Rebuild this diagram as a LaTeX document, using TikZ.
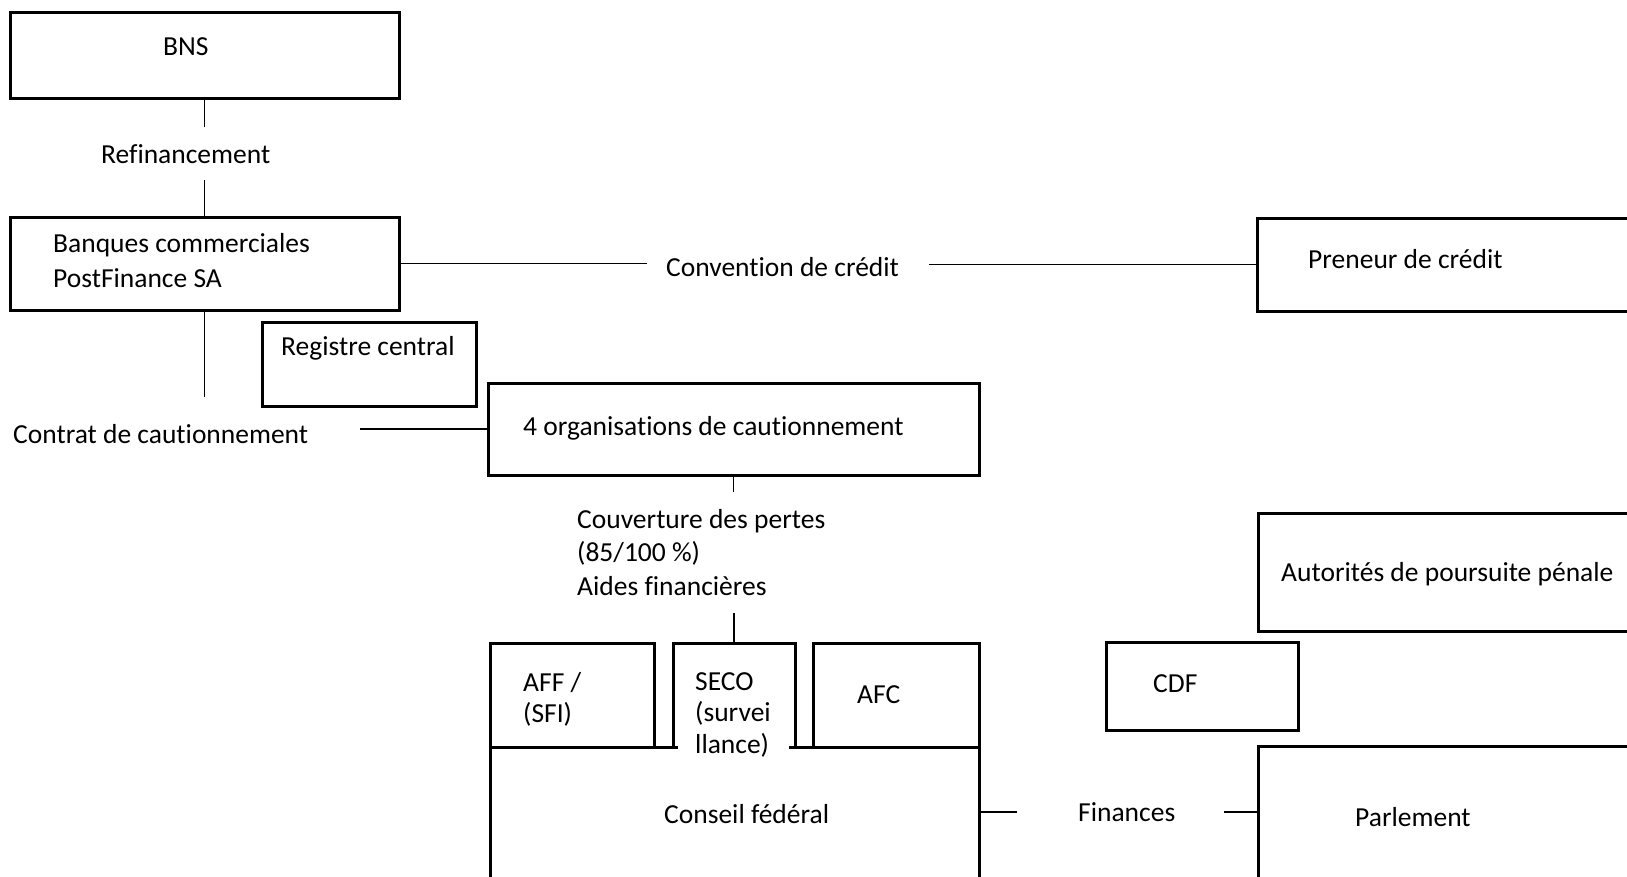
\documentclass[tikz,border=0pt]{standalone}
\usepackage{fontspec}
\setmainfont{Carlito}[Ligatures=CommonOff]
\begin{document}
\begin{tikzpicture}[x=1pt,y=-1pt,
  box/.style={draw, line width=3pt, inner sep=0pt, outer sep=0pt, anchor=north west},
  openbox/.style={draw=none, inner sep=0pt, outer sep=0pt, anchor=north west},
  border/.style={line width=3pt},
  conn/.style={line width=1.6pt},
  txt/.style={inner sep=0pt, anchor=base west, font=\fontsize{27.5}{33}\selectfont, align=left},
]
\useasboundingbox (0,0) rectangle (1627,876);
\clip (0,0) rectangle (1627,876);

% boxes
\node[box, minimum width=389pt, minimum height=86pt] (bns) at (10,12) {};
\node[box, minimum width=389pt, minimum height=93pt] (banques) at (10,217) {};
\node[box, minimum width=214pt, minimum height=84pt] (registre) at (262,322) {};
\node[box, minimum width=491pt, minimum height=92pt] (org) at (488,383) {};
\node[box, minimum width=164pt, minimum height=104pt] (aff) at (490,643) {};
\node[openbox, minimum width=122pt, minimum height=104pt] (seco) at (673,643) {};
\node[box, minimum width=166pt, minimum height=104pt] (afc) at (813,643) {};
\node[openbox, minimum width=489pt, minimum height=160pt] (conseil) at (490,747) {};
\node[box, minimum width=192pt, minimum height=88pt] (cdf) at (1106,642) {};
\node[box, minimum width=400pt, minimum height=118pt] (autorites) at (1258,513) {};
\node[box, minimum width=400pt, minimum height=93pt] (preneur) at (1257,218) {};
\node[box, minimum width=400pt, minimum height=160pt] (parlement) at (1258,746) {};

% open borders
\draw[border] (seco.south west) -- (seco.north west) -- (seco.north east) -- (seco.south east);
\draw[border] (conseil.south west) -- (conseil.north west) -- ([xshift=188pt]conseil.north west);
\draw[border] ([xshift=299pt]conseil.north west) -- (conseil.north east) -- (conseil.south east);

% connectors
\coordinate (c1) at (204.5,127);
\coordinate (c2) at (204.5,180);
\coordinate (c3) at (204.5,397);
\coordinate (c4) at (360,429);
\coordinate (c5) at (647,263.5);
\coordinate (c6) at (929,264.5);
\coordinate (c7) at (733.5,492);
\coordinate (c8) at (734,613);
\coordinate (c9) at (1017,812);
\coordinate (c10) at (1224,812);
\draw[conn] (bns.south) -- (c1);
\draw[conn] (c2) -- (c2 |- banques.north);
\draw[conn] (banques.south) -- (c3);
\draw[conn] (c4) -- (org.west);
\draw[conn] (banques.east) -- (c5);
\draw[conn] (c6) -- (preneur.west);
\draw[conn] (org.south) -- (c7);
\draw[conn] (c8) -- (seco.north);
\draw[conn] (c9 -| conseil.east) -- (c9);
\draw[conn] (c10) -- (c10 -| parlement.west);

% texts (multi-line nodes are placed by their last baseline)
\node[txt] (tbns) at (163,55) {BNS};
\node[txt] (trefi) at (101,163) {Refinancement};
\node[txt, font=\fontsize{27.5}{35}\selectfont] (tbanq) at (53,287) {Banques commerciales\\PostFinance SA};
\node[txt] (treg) at (281,355) {Registre central};
\node[txt] (tcontrat) at (13,443) {Contrat de cautionnement};
\node[txt] (torg) at (523,435) {4 organisations de cautionnement};
\node[txt, font=\fontsize{27.5}{33.5}\selectfont] (tcouv) at (577,595) {Couverture des pertes\\(85/100 \%)\\Aides financières};
\node[txt, font=\fontsize{27.5}{31}\selectfont] (taff) at (523,722) {AFF /\\(SFI)};
\node[txt, font=\fontsize{27.5}{31.5}\selectfont] (tseco) at (695,753) {SECO\\(survei\\llance)};
\node[txt] (tafc) at (857,703) {AFC};
\node[txt] (tcons) at (664,823) {Conseil fédéral};
\node[txt] (tconv) at (666,276) {Convention de crédit};
\node[txt] (tpren) at (1308,268) {Preneur de crédit};
\node[txt] (taut) at (1281,581) {Autorités de poursuite pénale};
\node[txt] (tcdf) at (1153,692) {CDF};
\node[txt] (tfin) at (1078,821) {Finances};
\node[txt] (tparl) at (1355,826) {Parlement};
\end{tikzpicture}
\end{document}
